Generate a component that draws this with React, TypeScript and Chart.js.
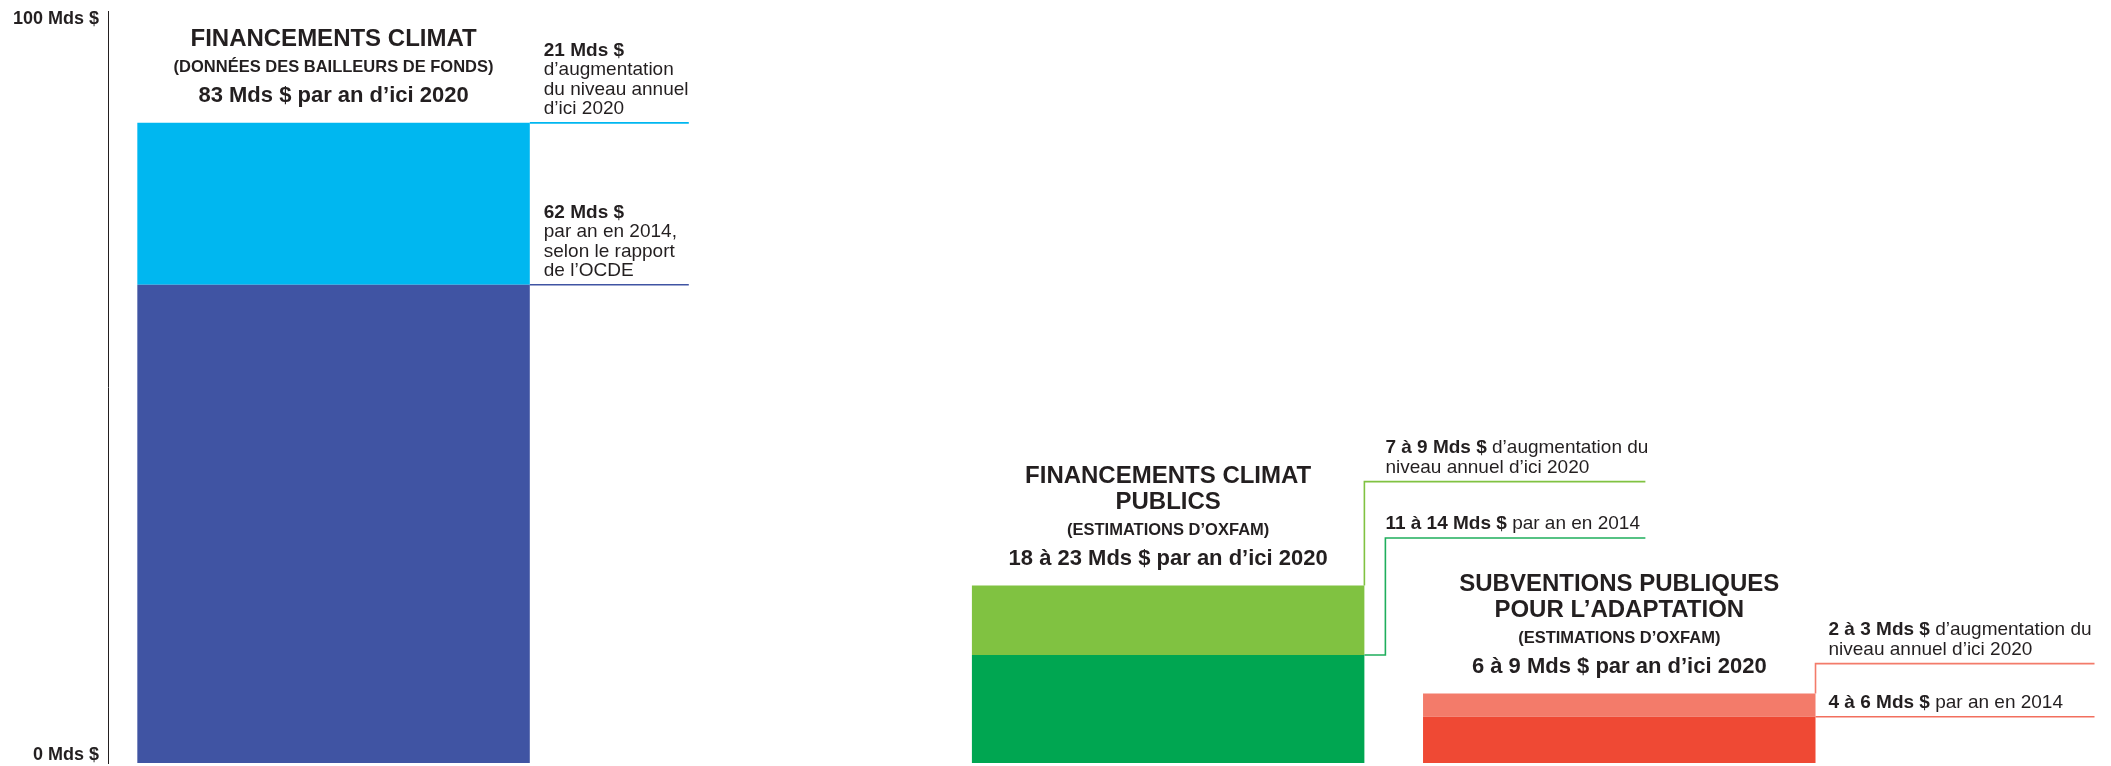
import React, { useEffect, useRef } from "react";
import { Chart, registerables } from "chart.js";

Chart.register(...registerables);

// ---------- data ----------
const groups = ["Financements climat", "Financements climat publics", "Subventions publiques pour l’adaptation"];
const xPositions = [0.5, 2.35, 3.35];
const base2014 = [62, 14, 6];
const increase2020 = [21, 9, 3];
const yTickLabels = ["0 Mds $", "100 Mds $"];

const titleLines = [
  ["FINANCEMENTS CLIMAT"],
  ["FINANCEMENTS CLIMAT", "PUBLICS"],
  ["SUBVENTIONS PUBLIQUES", "POUR L’ADAPTATION"],
];
const subtitles = ["(DONNÉES DES BAILLEURS DE FONDS)", "(ESTIMATIONS D’OXFAM)", "(ESTIMATIONS D’OXFAM)"];
const totals = ["83 Mds $ par an d’ici 2020", "18 à 23 Mds $ par an d’ici 2020", "6 à 9 Mds $ par an d’ici 2020"];

// each line: [bold part, regular part]
const increaseNotes = [
  [["21 Mds $", ""], ["", "d’augmentation"], ["", "du niveau annuel"], ["", "d’ici 2020"]],
  [["7 à 9 Mds $ ", "d’augmentation du"], ["", "niveau annuel d’ici 2020"]],
  [["2 à 3 Mds $ ", "d’augmentation du"], ["", "niveau annuel d’ici 2020"]],
];
const baseNotes = [
  [["62 Mds $", ""], ["", "par an en 2014,"], ["", "selon le rapport"], ["", "de l’OCDE"]],
  [["11 à 14 Mds $ ", "par an en 2014"]],
  [["4 à 6 Mds $ ", "par an en 2014"]],
];

// ---------- styles ----------
const FONT = "'Liberation Sans', Arial, Helvetica, sans-serif";
const INK = "#231f20";
const baseColors = ["#4054a3", "#00a651", "#ef4934"];
const incColors = ["#00b7f0", "#80c241", "#f37b6a"];
const baseLineColors = ["#4054a3", "#1fae5c", "#f26f5e"];
const incLineColors = ["#00b7f0", "#80c241", "#f37b6a"];
const leaders = [
  { textDx: 14, len: 159, upRise: 0, lowJog: 0, lowRise: 0 },
  { textDx: 21, len: 281, upRise: 104, lowJog: 21, lowRise: 117 },
  { textDx: 13, len: 279, upRise: 30, lowJog: 0, lowRise: 0 },
];
const X_MAX = 4.44;
const Y_MAX = 97.5;

function drawRich(ctx: CanvasRenderingContext2D, lines: string[][], x: number, lastY: number, lh: number, size: number) {
  ctx.textAlign = "left";
  ctx.textBaseline = "middle";
  ctx.fillStyle = INK;
  const n = lines.length;
  lines.forEach((ln, k) => {
    const y = lastY - (n - 1 - k) * lh;
    let cx = x;
    if (ln[0]) {
      ctx.font = `bold ${size}px ${FONT}`;
      ctx.fillText(ln[0], cx, y);
      cx += ctx.measureText(ln[0]).width;
    }
    if (ln[1]) {
      ctx.font = `${size}px ${FONT}`;
      ctx.fillText(ln[1], cx, y);
    }
  });
}

const annotPlugin = {
  id: "annot",
  afterDatasetsDraw(chart: any) {
    const ctx: CanvasRenderingContext2D = chart.ctx;
    const m0 = chart.getDatasetMeta(0);
    const m1 = chart.getDatasetMeta(1);
    ctx.save();
    for (let i = 0; i < groups.length; i++) {
      const b = m0.data[i].getProps(["x", "y", "width"], true);
      const t = m1.data[i].getProps(["x", "y", "width"], true);
      const right = b.x + b.width / 2;
      const baseY = b.y;
      const topY = t.y;
      const L = leaders[i];

      ctx.lineWidth = 1.6;
      // upper leader
      const upY = topY - L.upRise;
      ctx.strokeStyle = incLineColors[i];
      ctx.beginPath();
      ctx.moveTo(right, topY);
      ctx.lineTo(right, upY);
      ctx.lineTo(right + L.len, upY);
      ctx.stroke();
      // lower leader
      const lowY = baseY - L.lowRise;
      ctx.strokeStyle = baseLineColors[i];
      ctx.beginPath();
      ctx.moveTo(right, baseY);
      ctx.lineTo(right + L.lowJog, baseY);
      ctx.lineTo(right + L.lowJog, lowY);
      ctx.lineTo(right + L.len, lowY);
      ctx.stroke();

      drawRich(ctx, increaseNotes[i], right + L.textDx, upY - 14, 19.5, 19);
      drawRich(ctx, baseNotes[i], right + L.textDx, lowY - 14, 19.5, 19);

      // titles
      const cx = t.x;
      ctx.textAlign = "center";
      ctx.textBaseline = "middle";
      ctx.fillStyle = INK;
      ctx.font = `bold 22px ${FONT}`;
      ctx.fillText(totals[i], cx, topY - 27);
      ctx.font = `bold 16.5px ${FONT}`;
      ctx.fillText(subtitles[i], cx, topY - 55);
      ctx.font = `bold 24px ${FONT}`;
      const tl = titleLines[i];
      tl.forEach((s, k) => {
        ctx.fillText(s, cx, topY - 83 - (tl.length - 1 - k) * 26);
      });
    }
    ctx.restore();
  },
};

export default function App() {
  const ref = useRef<HTMLCanvasElement | null>(null);
  useEffect(() => {
    document.body.style.margin = "0";
    const canvas = ref.current;
    if (!canvas) return;
    const chart = new Chart(canvas, {
      type: "bar",
      data: {
        datasets: [
          {
            label: "2014",
            data: xPositions.map((x, i) => ({ x, y: base2014[i] })),
            backgroundColor: baseColors,
            borderWidth: 0,
            categoryPercentage: 1,
            barPercentage: 0.87,
          },
          {
            label: "Augmentation d’ici 2020",
            data: xPositions.map((x, i) => ({ x, y: increase2020[i] })),
            backgroundColor: incColors,
            borderWidth: 0,
            categoryPercentage: 1,
            barPercentage: 0.87,
          },
        ],
      },
      options: {
        animation: false,
        responsive: false,
        layout: { padding: { top: 11, bottom: 3, left: 0, right: 0 } },
        plugins: { legend: { display: false }, tooltip: { enabled: false } },
        scales: {
          x: {
            type: "linear",
            display: false,
            stacked: true,
            min: 0,
            max: X_MAX,
            offset: false,
            afterBuildTicks: (s: any) => {
              s.ticks = xPositions.map((v) => ({ value: v }));
            },
          },
          y: {
            stacked: true,
            min: 0,
            max: Y_MAX,
            grid: { display: false, drawTicks: false },
            border: { display: true, color: INK, width: 1 },
            afterBuildTicks: (s: any) => {
              s.ticks = [{ value: 0 }, { value: s.max }];
            },
            afterFit: (s: any) => {
              s.width = 108;
              s.paddingTop = 0;
              s.paddingBottom = 0;
            },
            ticks: {
              padding: 9,
              color: INK,
              font: { family: FONT, size: 18, weight: "bold", lineHeight: 0.9 },
              callback: (_v: any, i: number) => (i === 0 ? [yTickLabels[0], ""] : ["", yTickLabels[1]]),
            },
          },
        },
      },
      plugins: [annotPlugin],
    } as any);
    return () => chart.destroy();
  }, []);
  return (
    <div style={{ width: 2111, height: 766 }}>
      <canvas ref={ref} width={2111} height={766} style={{ display: "block" }} />
    </div>
  );
}
